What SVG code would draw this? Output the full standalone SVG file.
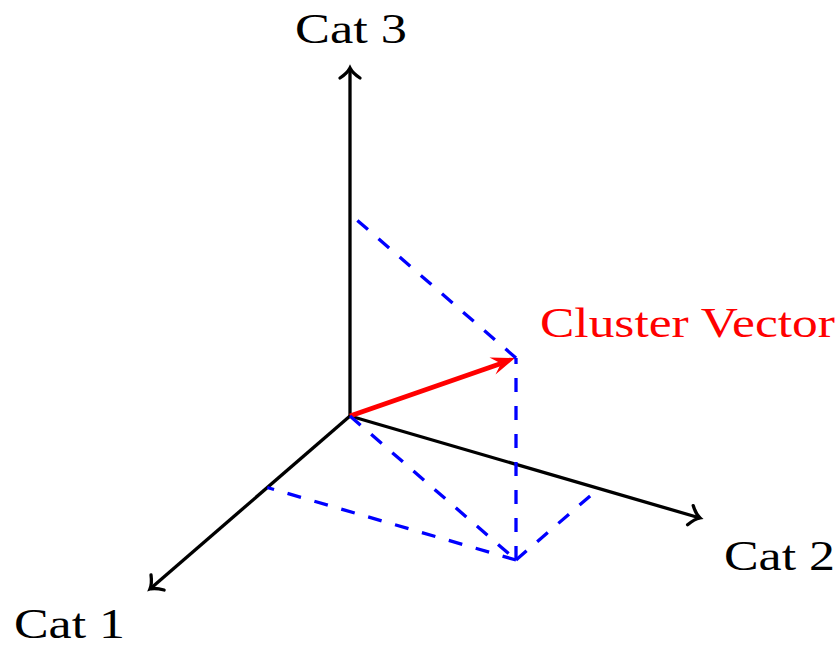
<svg xmlns="http://www.w3.org/2000/svg" width="840" height="648" viewBox="0 0 840 648">
  <style>
    .lbl { font-family: "Liberation Serif", "DejaVu Serif", serif; font-size: 43px; fill: #000; }
    .red { fill: #ff0000; }
    .axis { stroke: #000; stroke-width: 3.3; fill: none; marker-end: url(#tip); }
    .dash { stroke: #0000ff; stroke-width: 3.3; fill: none; stroke-dasharray: 14 14; }
  </style>
  <defs>
    <marker id="tip" markerUnits="userSpaceOnUse" viewBox="-14 -14 28 28" markerWidth="28" markerHeight="28" refX="0" refY="0" orient="auto">
      <path d="M -10,-10 C -6,-4 -2,-1 0,0 C -2,1 -6,4 -10,10" stroke="#000" stroke-width="3.3" fill="none" stroke-linecap="round"/>
    </marker>
  </defs>
  <rect width="840" height="648" fill="#fff"/>
  <g id="connectors">
    <line class="axis" x1="350" y1="416" x2="350" y2="68"/>
    <line class="axis" x1="350" y1="416" x2="150" y2="589"/>
    <line class="axis" x1="350" y1="416" x2="700" y2="518"/>
    <g id="cluster-vector-arrow">
      <line x1="350" y1="416" x2="501" y2="363.5" stroke="#ff0000" stroke-width="5"/>
      <path d="M 515,358 L 489.5,357.5 L 501,363.5 L 495.5,374.5 Z" fill="#ff0000"/>
    </g>
    <line class="dash" x1="516" y1="358" x2="350" y2="214"/>
    <line class="dash" x1="516" y1="560" x2="516" y2="358"/>
    <line class="dash" x1="350" y1="416" x2="516" y2="560"/>
    <line class="dash" x1="516" y1="560" x2="267.3" y2="487.5"/>
    <line class="dash" x1="516" y1="560" x2="598.7" y2="488.5"/>
  </g>
  <g id="cat3"><text class="lbl" x="295" y="43" textLength="112" lengthAdjust="spacingAndGlyphs">Cat 3</text></g>
  <g id="cat1"><text class="lbl" x="14" y="638" textLength="111" lengthAdjust="spacingAndGlyphs">Cat 1</text></g>
  <g id="cat2"><text class="lbl" x="724" y="570" textLength="111" lengthAdjust="spacingAndGlyphs">Cat 2</text></g>
  <g id="cluster-vector"><text class="lbl red" x="540" y="337" textLength="295" lengthAdjust="spacingAndGlyphs">Cluster Vector</text></g>
</svg>
